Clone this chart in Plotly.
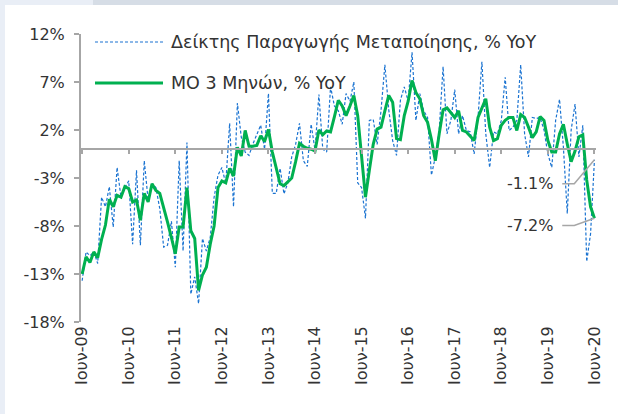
import plotly.graph_objects as go

# ---- data (monthly, Jun-2009 .. Jun-2020) ----
index_yoy = [
    -13.7, -10.7, -11.1, -10.7, -11.9, -5.0, -6.0, -3.9, -8.1, -1.9,
    -5.0, -4.0, -3.3, -9.9, -2.2, -10.0, -1.2, -5.3, -3.6, -4.0,
    -6.2, -10.2, -10.0, -7.5, -12.3, -1.2, -10.6, 0.7, -15.1, -13.3,
    -16.1, -9.3, -10.6, -9.2, -5.0, -2.7, -1.9, -3.6, 2.7, -6.0,
    4.8, 1.25, -0.3, -0.65, 0.55, 1.5, 2.5, 0.0, 5.8, -4.6,
    -4.6, -2.0, -4.65, -3.5, -0.8, 0.5, 2.7, -1.2, -1.8, 2.6,
    -0.1, 5.7, 0.0, -0.3, 6.5, 4.5, 4.0, 2.6, 5.8, 5.0,
    7.0, -3.5, -4.0, -7.2, 3.0, 3.1, 0.5, 4.0, 8.8, 4.1,
    0.9, -0.65, 5.1, 6.5, 5.0, 10.1, 3.0, 5.8, 4.0, 3.3,
    -2.7, -0.8, 2.0, 8.6, 1.6, 3.0, 6.2, 1.6, 3.5, 1.95,
    1.8, -0.5, 3.3, 9.1, 1.6, -1.9, 1.8, 1.6, 3.0, 7.5,
    1.95, 2.3, 3.0, 8.8, 1.6, -0.8, 3.3, 3.2, 3.3, 2.0,
    -0.5, -1.9, 3.0, 5.2, 0.2, -6.7, 2.0, 4.7, -0.8, 2.5,
    -11.7, -8.8, -1.1,
]

ma3_yoy = [
    -13.0, -11.2, -11.8, -10.7, -11.3, -9.4, -7.9, -5.2, -6.0, -4.8,
    -5.0, -3.9, -4.1, -5.5, -5.3, -7.4, -4.6, -5.5, -3.6, -4.3,
    -4.6, -6.0, -7.6, -9.2, -10.9, -8.1, -8.1, -4.0, -8.5, -9.3,
    -14.7, -13.1, -12.3, -9.9, -8.0, -4.0, -3.3, -3.5, -2.0, -2.8,
    0.2, -0.7, 1.95, 0.3, 0.3, 0.4, 1.4, 0.8, 2.05, -0.3,
    -2.0, -3.6, -3.8, -3.4, -3.0, -1.3, 0.6, 0.3, 0.1, 0.0,
    -0.2, 2.0, 1.5, 1.9, 1.8, 3.4, 5.1, 4.5, 3.5, 4.5,
    5.6, 3.5, -0.5, -5.0, -2.2, 0.5, 2.1, 2.3, 4.0, 5.6,
    4.9, 1.1, 1.0, 3.5, 5.0, 7.15, 5.9, 5.25, 3.5, 2.8,
    1.0, -1.2, 1.6, 4.1, 4.3, 3.8, 3.3, 4.0, 1.95, 1.8,
    1.3, 0.9, 3.3, 4.3, 5.25, 2.3, 0.9, 1.1, 2.5, 3.0,
    3.3, 3.3, 1.95, 3.6, 3.3, 2.3, 1.2, 1.8, 3.4, 3.0,
    0.9, -0.3, -0.3, 1.6, 2.6, 0.55, -1.3, -0.2, 1.3, 1.5,
    -3.2, -6.0, -7.2,
]

tick_labels = ["Ιουν-09", "Ιουν-10", "Ιουν-11", "Ιουν-12", "Ιουν-13", "Ιουν-14",
               "Ιουν-15", "Ιουν-16", "Ιουν-17", "Ιουν-18", "Ιουν-19", "Ιουν-20"]
y_ticks = [-18, -13, -8, -3, 2, 7, 12]
y_tick_labels = ["-18%", "-13%", "-8%", "-3%", "2%", "7%", "12%"]

series_names = ["Δείκτης Παραγωγής Μεταποίησης, % YoY", "ΜΟ 3 Μηνών, % YoY"]

# ---- styling ----
BLUE = "#1a73d1"
GREEN = "#00b050"
GREY = "#a6a6a6"
TEXT = "#333333"
FONT = "DejaVu Sans"

months = list(range(len(index_yoy)))
tick_pos = months[::12]

W, H = 618, 414
ML, MR, MT, MB = 81, 22, 34, 92
pw, ph = W - ML - MR, H - MT - MB

def px(xp):
    return (xp - ML) / pw

def py(yp):
    return (H - MB - yp) / ph

fig = go.Figure()
fig.add_trace(go.Scatter(x=months, y=index_yoy, mode="lines", name=series_names[0],
                         line=dict(color=BLUE, width=1.2, dash="3px,2px"),
                         showlegend=False, hoverinfo="skip"))
fig.add_trace(go.Scatter(x=months, y=ma3_yoy, mode="lines", name=series_names[1],
                         line=dict(color=GREEN, width=3),
                         showlegend=False, hoverinfo="skip"))
# carrier trace for the zero-line axis
fig.add_trace(go.Scatter(x=[months[0], months[-1]], y=[0, 0], xaxis="x2", mode="lines",
                         line=dict(width=0, color="rgba(0,0,0,0)"),
                         showlegend=False, hoverinfo="skip"))

xr = [-0.3, months[-1] + 0.4]
fig.update_layout(
    width=W, height=H,
    margin=dict(l=ML, r=MR, t=MT, b=MB),
    paper_bgcolor="white", plot_bgcolor="white",
    font=dict(family=FONT, size=16, color=TEXT),
    xaxis=dict(range=xr, tickvals=tick_pos, ticktext=tick_labels, tickangle=-90,
               showline=False, showgrid=False, zeroline=False, ticks="",
               tickfont=dict(size=16, color=TEXT)),
    xaxis2=dict(range=xr, overlaying="x", anchor="free", position=18 / 30,
                side="bottom", showline=True, linecolor=GREY, linewidth=2,
                ticks="outside", ticklen=4, tickwidth=1.5, tickcolor=GREY,
                tickvals=tick_pos, showticklabels=False, showgrid=False, zeroline=False),
    yaxis=dict(range=[-18, 12], tickvals=y_ticks, ticktext=y_tick_labels,
               showline=True, linecolor=GREY, linewidth=2,
               ticks="outside", ticklen=5, tickwidth=1.5, tickcolor=GREY,
               ticklabelstandoff=6,
               showgrid=False, zeroline=False, tickfont=dict(size=16, color=TEXT)),
)

shapes = []
# frame strips
shapes.append(dict(type="rect", xref="paper", yref="paper", layer="below",
                   x0=px(0), x1=px(5), y0=py(H), y1=py(0),
                   fillcolor="#e9eef6", line=dict(width=0)))
shapes.append(dict(type="rect", xref="paper", yref="paper", layer="below",
                   x0=px(0), x1=px(93), y0=py(5), y1=py(0),
                   fillcolor="#e9eef6", line=dict(width=0)))
shapes.append(dict(type="rect", xref="paper", yref="paper", layer="below",
                   x0=px(93), x1=px(W), y0=py(5), y1=py(0),
                   fillcolor="#d6dde6", line=dict(width=0)))

# legend (drawn manually)
legend_rows = [(42, BLUE, 1.2, "3px,2px"), (83, GREEN, 3, "solid")]
annotations = []
for (yrow, col, wid, dash), name in zip(legend_rows, series_names):
    shapes.append(dict(type="line", xref="paper", yref="paper",
                       x0=px(95), x1=px(163), y0=py(yrow), y1=py(yrow),
                       line=dict(color=col, width=wid, dash=dash)))
    annotations.append(dict(xref="paper", yref="paper", x=px(169), y=py(yrow),
                            text=name, showarrow=False, xanchor="left", yanchor="middle",
                            font=dict(size=17.5, color=TEXT, family=FONT)))

# end-value callouts
last = months[-1]
callouts = [(index_yoy[-1], -2.5), (ma3_yoy[-1], -0.75)]
for val, off in callouts:
    ylab = val + off
    annotations.append(dict(x=last - 10.2, y=ylab, xref="x", yref="y",
                            text=f"{val:.1f}%", showarrow=False,
                            xanchor="right", yanchor="middle",
                            font=dict(size=16, color=TEXT, family=FONT)))
    shapes.append(dict(type="path", xref="x", yref="y",
                       path=f"M {last-8.3},{ylab} L {last-5.2},{ylab} L {last},{val}",
                       line=dict(color=GREY, width=1.5)))

fig.update_layout(shapes=shapes, annotations=annotations)
fig.write_html("out.html", config={"displayModeBar": False},
               post_script="document.body.style.margin='0';document.body.style.padding='0';")
